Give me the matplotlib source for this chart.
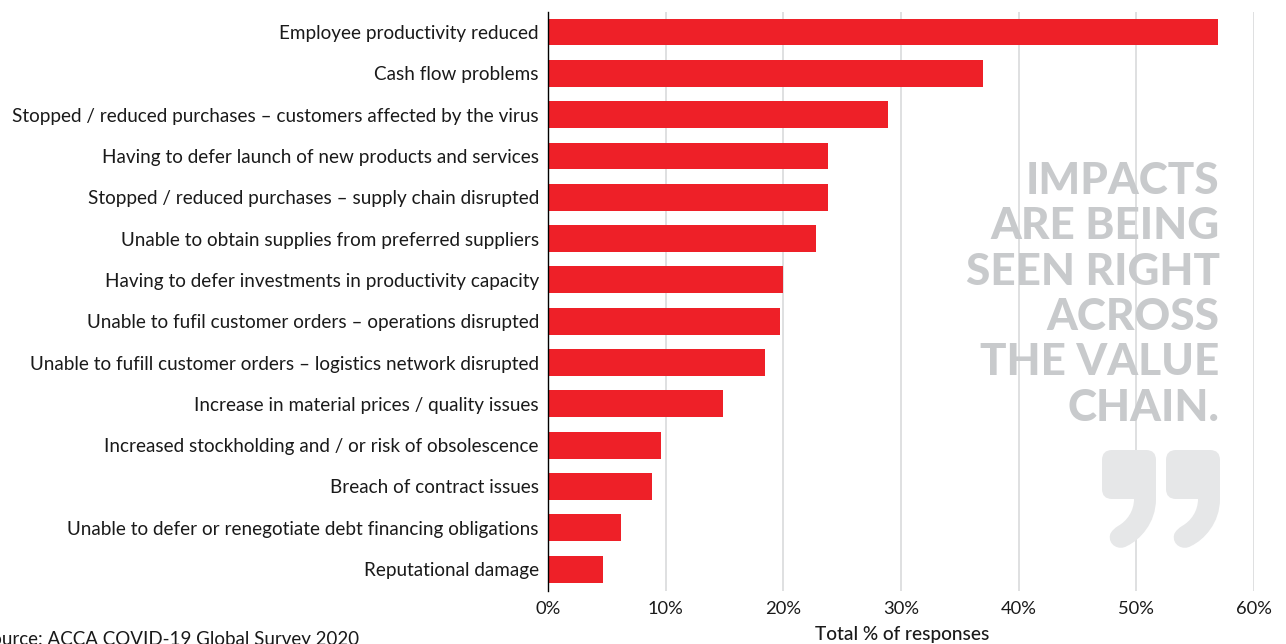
import matplotlib
matplotlib.use('Agg')
import matplotlib.pyplot as plt
from matplotlib.patches import PathPatch
from matplotlib.path import Path

plt.rcParams['font.family'] = ['Lato', 'DejaVu Sans']

labels = [
    'Employee productivity reduced',
    'Cash flow problems',
    'Stopped / reduced purchases – customers affected by the virus',
    'Having to defer launch of new products and services',
    'Stopped / reduced purchases – supply chain disrupted',
    'Unable to obtain supplies from preferred suppliers',
    'Having to defer investments in productivity capacity',
    'Unable to fufil customer orders – operations disrupted',
    'Unable to fufill customer orders – logistics network disrupted',
    'Increase in material prices / quality issues',
    'Increased stockholding and / or risk of obsolescence',
    'Breach of contract issues',
    'Unable to defer or renegotiate debt financing obligations',
    'Reputational damage',
]
values = [56.9, 37.0, 28.9, 23.8, 23.8, 22.8, 20.0, 19.7, 18.4, 14.9, 9.6, 8.8, 6.2, 4.7]
xticks = [0, 10, 20, 30, 40, 50, 60]
quote_lines = ['IMPACTS', 'ARE BEING', 'SEEN RIGHT', 'ACROSS', 'THE VALUE', 'CHAIN.']

W, H = 1286, 644
fig = plt.figure(figsize=(W/100, H/100), dpi=100)
ax = fig.add_axes([548/W, 1-591/H, (1254-548)/W, (591-12)/H])

ax.barh(range(len(values)), values, height=0.65, color='#ee2028', zorder=3)
ax.set_xlim(0, 60)
ax.set_ylim(13.53, -0.484)
ax.set_yticks(range(len(labels)))
ax.set_yticklabels(labels, fontsize=13.64, color='#1a1a1a')
ax.set_xticks(xticks)
ax.set_xticklabels(['%d%%' % t for t in xticks], fontsize=13.2, color='#1a1a1a')
ax.tick_params(axis='both', length=0)
ax.tick_params(axis='y', pad=6.5)
ax.tick_params(axis='x', pad=7)
ax.grid(axis='x', color='#d9dadb', lw=1.2, zorder=0)
ax.set_axisbelow(True)
for s in ['top', 'right', 'bottom']:
    ax.spines[s].set_visible(False)
ax.spines['left'].set_color('black')
ax.spines['left'].set_linewidth(1.0)
ax.spines['left'].set_zorder(5)

fig.text(902/W, 1-634.5/H, 'Total % of responses', ha='center', va='center', fontsize=13.7, fontweight='medium', color='#1a1a1a')
fig.text(-19/W, 1-639/H, 'Source: ACCA COVID-19 Global Survey 2020', ha='left', va='center', fontsize=13.5, color='#1a1a1a')

# overlay in pixel coords for the pull quote
ov = fig.add_axes([0, 0, 1, 1], facecolor='none')
ov.set_xlim(0, W)
ov.set_ylim(H, 0)
ov.axis('off')

for i, line in enumerate(quote_lines):
    ov.text(1219.5, 194 + i*45.3, line, ha='right', va='baseline', fontsize=31.7, fontweight='black', color='#c8cacc')

def quote_mark(x):
    # x is the left edge of the mark
    verts = [
        (x+10, 450), (x+44, 450), (x+54, 450), (x+54, 460),
        (x+54, 499), (x+54, 523), (x+38, 540), (x+25, 546),
        (x+17, 551), (x+6, 545), (x+8, 535), (x+9, 531), (x+13, 528), (x+16, 526),
        (x+25, 521), (x+32, 511), (x+32, 499),
        (x+10, 499), (x, 499), (x, 489),
        (x, 460), (x, 450), (x+10, 450),
    ]
    codes = [Path.MOVETO, Path.LINETO, Path.CURVE3, Path.CURVE3,
             Path.LINETO, Path.CURVE4, Path.CURVE4, Path.CURVE4,
             Path.CURVE4, Path.CURVE4, Path.CURVE4, Path.CURVE4, Path.CURVE4, Path.CURVE4,
             Path.CURVE4, Path.CURVE4, Path.CURVE4,
             Path.LINETO, Path.CURVE3, Path.CURVE3,
             Path.LINETO, Path.CURVE3, Path.CURVE3]
    ov.add_patch(PathPatch(Path(verts, codes), facecolor='#e6e7e8', edgecolor='none'))

quote_mark(1102)
quote_mark(1166)

fig.savefig('out.png', dpi=100)
